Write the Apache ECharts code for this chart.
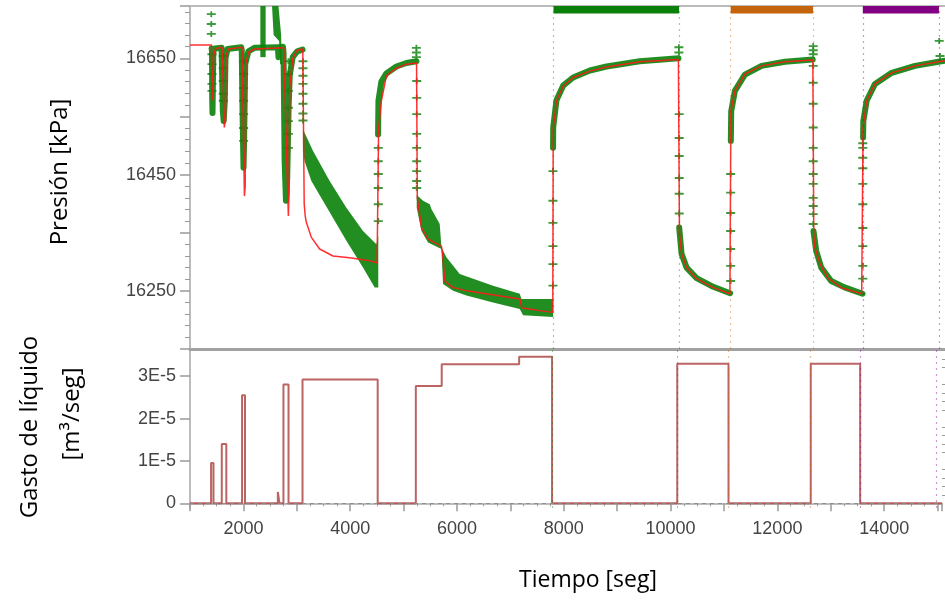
<!DOCTYPE html>
<html>
<head>
<meta charset="utf-8">
<script src="https://cdn.jsdelivr.net/npm/echarts@6/dist/echarts.min.js"></script>
<style>html,body{margin:0;padding:0;background:#fff;}#c{width:945px;height:602px;}</style>
</head>
<body>
<div id="c"></div>
<script>
// ---------------- DATA ----------------
const timeMin = 1000, timeMax = 15083;
const pressureMin = 16150, pressureMax = 16740;
const rateMin = -1.1e-6, rateMax = 3.64e-5;

// model (red line) pressure
const modelTime = [1000,1400,1412,1428,1440,1480,1598,
  1605,1640,1662,1670,1720,1970,
  1978,2015,2030,2040,2090,2200,2748,
  2752,2835,2848,2860,2915,3000,3104,
  3107,3130,3150,3170,3264,3418,3667,3978,4352,4490,4512,
  4518,4570,4663,4850,5037,5226,
  5232,5240,5317,5440,5690,5714,5751,5901,6162,7151,7189,7525,7767,
  7775,7836,7960,8146,8458,8770,9391,10110,
  10122,10130,10169,10263,10449,10753,11071,11085,
  11090,11164,11350,11662,12097,12618,
  12625,12635,12657,12750,12899,13160,13529,13548,
  13555,13622,13777,14089,14524,14959,15083];
const modelPressure = [16673,16673,16578,16590,16655,16667,16669,
  16669,16531,16545,16655,16666,16669,
  16669,16413,16430,16640,16660,16666,16668,
  16668,16379,16420,16600,16650,16664,16666,
  16666,16400,16378,16368,16342,16322,16310,16307,16302,16298,16297,
  16530,16577,16620,16633,16640,16642,
  16642,16410,16359,16339,16327,16313,16267,16256,16250,16236,16221,16216,16213,
  16530,16577,16602,16617,16628,16635,16644,16648,
  16648,16348,16314,16290,16271,16256,16245,16244,
  16559,16594,16623,16637,16644,16647,
  16647,16348,16324,16297,16272,16255,16245,16244,
  16531,16577,16606,16625,16637,16644,16646];

// measured pressure, dense parts (null = gap)
const measTime = [1403,1410,1414,1420,1426,1435,1460,1590,
  1600,1612,1628,1648,1662,1700,1955,
  1965,1980,1990,1998,2008,2030,2090,2200,2640,2650,2662,2735,
  2745,2765,2790,2812,2838,2860,2915,3000,3100, null,
  4508,4515,4570,4663,4850,5037,5225, null,
  7772,7775,7836,7960,8146,8458,8770,9391,10110, null,
  10125,10169,10263,10449,10760,11075, null,
  11088,11095,11164,11350,11662,12097,12615, null,
  12630,12680,12775,12960,13210,13545, null,
  13555,13560,13622,13777,14089,14524,14960,15083];
const measPressure = [16667,16662,16582,16556,16600,16660,16667,16668,
  16668,16560,16542,16575,16650,16666,16669,
  16665,16560,16503,16462,16503,16640,16662,16668,16669,16652,16669,16670,
  16660,16473,16405,16440,16560,16620,16652,16662,16665, null,
  16519,16577,16610,16624,16636,16642,16645, null,
  16496,16531,16578,16603,16617,16629,16636,16645,16650, null,
  16359,16314,16290,16272,16257,16246, null,
  16508,16559,16594,16622,16637,16644,16648, null,
  16353,16319,16290,16267,16256,16245, null,
  16514,16542,16577,16606,16625,16637,16644,16646];

// measured scatter bands (polygons)
const bandATime = [3107,3293,3605,3917,4227,4477,4512,4512,4445,4227,3917,3480,3264,3138,3107];
const bandAPressure = [16528,16491,16439,16393,16353,16330,16345,16256,16256,16290,16336,16405,16439,16473,16490];
const bandBTime = [5229,5347,5472,5503,5658,5690,5783,6031,6653,7151,7182,7773,7773,7213,7151,6653,6156,5907,5720,5690,5440,5317,5229];
const bandBPressure = [16415,16405,16399,16391,16365,16325,16308,16279,16259,16245,16236,16236,16205,16208,16219,16230,16242,16250,16262,16322,16333,16353,16393];
const spike1Time = [2312,2411,2411,2312];
const spike1Pressure = [16740,16740,16652,16652];
const spike2Time = [2530,2650,2700,2710,2680,2662,2560];
const spike2Pressure = [16740,16740,16690,16640,16640,16680,16690];

// individual measured points in fast transients
const markTime = [1397,1397,1397,
  1410,1410,1410,1410,1410, 1620,1620,1620,1620,1620,
  2000,2000,2000,2000,2000,2000,2000, 2835,2835,2835,2835,2835,2835,2835,
  3107,3107,3107,3107,3107,3107,3107,3107,
  4512,4512,4512,4512,4512,4512,
  5223,5223,5223,5229,5229,5229,5229,5229,5229,5229,5229,5229,
  7770,7770,7770,7770,7770,7770,
  10119,10119,10125,10125,10125,10125,10125,10125,
  11085,11085,11085,11085,11085,11085,11085,
  12625,12625,12625,12625,12625,12625,12625,12625,12625,12625,12625,12625,12625,12625,12625,
  13550,13550,13550,13550,13550,13550,13550,13550,13550,13550,
  14975,14990];
const markPressure = [16726,16709,16692,
  16657,16640,16623,16606,16594, 16654,16633,16611,16589,16577,
  16645,16623,16599,16577,16554,16530,16508, 16645,16623,16594,16565,16542,16520,16496,
  16645,16633,16620,16606,16589,16572,16555,16543,
  16370,16399,16427,16451,16473,16496,
  16668,16660,16652,16611,16582,16554,16520,16496,16473,16456,16439,16427,
  16456,16405,16367,16327,16296,16259,
  16669,16660,16554,16513,16482,16444,16417,16383,
  16451,16419,16384,16353,16322,16293,16267,
  16671,16664,16657,16637,16608,16572,16531,16496,16473,16451,16434,16410,16396,16382,16365,
  16271,16293,16327,16358,16399,16434,16461,16479,16496,16504,
  16680,16654];

// liquid rate (step, value holds from time i to time i+1)
const rateTime  = [1000,1395,1440,1595,1680,1975,2030,2645,2675,2750,2845,3107,4515,5229,5714,7164,7780,10125,11085,12625,13550,15083];
const rateValue = [0,9.5e-6,0,1.4e-5,0,2.55e-5,0,2.7e-6,0,2.8e-5,0,2.92e-5,0,2.77e-5,3.28e-5,3.46e-5,0,3.29e-5,0,3.29e-5,0,0];

// phases (coloured bars and dotted lines)
const phaseStart = [7780, 11085, 13550];
const phaseEnd   = [10122, 12622, 14970];
const phaseColor = ['#0a800a', '#c4640c', '#820082'];

// ticks
const rateMajorTicks = [0, 1e-5, 2e-5, 3e-5];
const rateMinorTicks = [2e-6,4e-6,6e-6,8e-6,1.2e-5,1.4e-5,1.6e-5,1.8e-5,2.2e-5,2.4e-5,2.6e-5,2.8e-5,3.2e-5,3.4e-5,3.6e-5];

// ---------------- CHART ----------------
const zip = (a, b) => a.map((v, i) => (v === null ? '-' : [v, b[i]]));
const polys = [zip(bandATime, bandAPressure), zip(bandBTime, bandBPressure),
               zip(spike1Time, spike1Pressure), zip(spike2Time, spike2Pressure)];
const green = '#0a820a';
const axisGray = '#bcbcbc';
const tickGray = '#9a9a9a';
const labelFont = { fontFamily: 'Liberation Sans', fontSize: 18, color: '#444' };

const phaseLines = [];
phaseStart.forEach((s, i) => {
  phaseLines.push({ xAxis: s, lineStyle: { color: phaseColor[i] } });
  phaseLines.push({ xAxis: phaseEnd[i], lineStyle: { color: phaseColor[i] } });
});
const phaseMarkLine = {
  silent: true, symbol: ['none', 'none'], label: { show: false },
  lineStyle: { type: [2, 4], width: 1.2, opacity: 0.4 },
  data: phaseLines, animation: false
};

const chart = echarts.init(document.getElementById('c'), null, { renderer: 'canvas' });
chart.setOption({
  animation: false,
  backgroundColor: '#fff',
  grid: [
    { left: 190, top: 6, right: 0, height: 343 },
    { left: 190, top: 349, right: 0, height: 159 }
  ],
  xAxis: [
    { type: 'value', gridIndex: 0, min: timeMin, max: timeMax, position: 'bottom',
      axisLine: { show: true, lineStyle: { color: '#a2a2a2', width: 3 } },
      axisTick: { show: false }, axisLabel: { show: false }, splitLine: { show: false } },
    { type: 'value', gridIndex: 0, min: timeMin, max: timeMax, position: 'top',
      axisLine: { show: true, lineStyle: { color: axisGray, width: 2 } },
      axisTick: { show: false }, axisLabel: { show: false }, splitLine: { show: false } },
    { type: 'value', gridIndex: 1, min: timeMin, max: timeMax, interval: 1000, position: 'bottom',
      axisLine: { show: true, lineStyle: { color: axisGray, width: 2 } },
      axisTick: { show: true, length: 8, lineStyle: { color: tickGray, width: 1.5 } },
      minorTick: { show: true, splitNumber: 4, length: 3, lineStyle: { color: tickGray } },
      axisLabel: Object.assign({ margin: 12, formatter: v => {
        const r = Math.round(v); return (r % 2000 === 0 && r >= 2000 && r <= 14000) ? String(r) : ''; } }, labelFont),
      splitLine: { show: false }, minorSplitLine: { show: false } }
  ],
  yAxis: [
    { type: 'value', gridIndex: 0, min: pressureMin, max: pressureMax, interval: 100,
      axisLine: { show: true, lineStyle: { color: axisGray, width: 2 } },
      axisTick: { show: true, length: 10, lineStyle: { color: tickGray, width: 1.5 } },
      minorTick: { show: true, splitNumber: 5, length: 5, lineStyle: { color: tickGray } },
      axisLabel: Object.assign({ margin: 14, formatter: v => {
        const r = Math.round(v); return ((r - 16250) % 200 === 0 && r <= 16650) ? String(r) : ''; } }, labelFont),
      splitLine: { show: false }, minorSplitLine: { show: false } },
    { type: 'value', gridIndex: 1, min: rateMin, max: rateMax,
      axisLine: { show: true, lineStyle: { color: axisGray, width: 2 } },
      axisTick: { show: true, length: 10, customValues: rateMajorTicks, lineStyle: { color: tickGray, width: 1.5 } },
      axisLabel: Object.assign({ margin: 14, customValues: rateMajorTicks, formatter: v => {
        if (Math.abs(v) < 1e-9) return '0'; return Math.round(v * 1e5) + 'E-5'; } }, labelFont),
      splitLine: { show: false } },
    { type: 'value', gridIndex: 1, min: rateMin, max: rateMax,
      axisLine: { show: false },
      axisTick: { show: true, length: 5, customValues: rateMinorTicks, lineStyle: { color: tickGray } },
      axisLabel: { show: false, customValues: rateMinorTicks },
      splitLine: { show: false } }
  ],
  series: [
    { type: 'custom', xAxisIndex: 0, yAxisIndex: 0, z: 2,
      data: polys.map((p, i) => [p[0][0], p[0][1], i]),
      renderItem: (params, api) => {
        const pts = polys[params.dataIndex].map(p => api.coord(p));
        return { type: 'polygon', shape: { points: pts }, style: { fill: green, opacity: 0.9 } };
      } },
    { type: 'line', name: 'measured', xAxisIndex: 0, yAxisIndex: 0, z: 3,
      data: zip(measTime, measPressure), showSymbol: false, connectNulls: false,
      lineStyle: { color: green, width: 6, opacity: 0.9, join: 'round', cap: 'round' } },
    { type: 'scatter', name: 'points', xAxisIndex: 0, yAxisIndex: 0, z: 3,
      data: zip(markTime, markPressure),
      symbol: 'path://M0,3.2H9V4.8H0Z M3.6,1.5H5.4V6.5H3.6Z', symbolSize: [9, 6],
      itemStyle: { color: green, opacity: 0.8 } },
    { type: 'line', name: 'model', xAxisIndex: 0, yAxisIndex: 0, z: 4,
      data: zip(modelTime, modelPressure), showSymbol: false,
      lineStyle: { color: '#ff1a1a', width: 1.5, opacity: 0.9 },
      markLine: phaseMarkLine,
      markArea: { silent: true, data: phaseStart.map((s, i) => [
        { xAxis: s, yAxis: 16727, itemStyle: { color: phaseColor[i], opacity: 1 } },
        { xAxis: phaseEnd[i], yAxis: pressureMax }]) } },
    { type: 'line', name: 'rate', xAxisIndex: 2, yAxisIndex: 1, z: 4, step: 'end',
      data: zip(rateTime, rateValue), showSymbol: false,
      lineStyle: { color: '#b04848', width: 2, opacity: 0.85 },
      markLine: Object.assign({}, phaseMarkLine, { data: phaseLines.concat([
        { yAxis: 0, lineStyle: { color: '#8a8a8a', type: [4, 4], width: 1, opacity: 0.9 } }]) }) }
  ],
  graphic: [
    { type: 'text', x: 60, y: 172, rotation: Math.PI / 2,
      style: { text: 'Presión [kPa]', font: '24px "Open Sans"', fill: '#000', align: 'center', verticalAlign: 'middle' } },
    { type: 'text', x: 30, y: 427, rotation: Math.PI / 2,
      style: { text: 'Gasto de líquido', font: '24px "Open Sans"', fill: '#000', align: 'center', verticalAlign: 'middle' } },
    { type: 'text', x: 72, y: 414, rotation: Math.PI / 2,
      style: { text: '[m³/seg]', font: '24px "Open Sans"', fill: '#000', align: 'center', verticalAlign: 'middle' } },
    { type: 'text', x: 588, y: 580,
      style: { text: 'Tiempo [seg]', font: '23px "Open Sans"', fill: '#000', align: 'center', verticalAlign: 'middle' } }
  ]
});
</script>
</body>
</html>
